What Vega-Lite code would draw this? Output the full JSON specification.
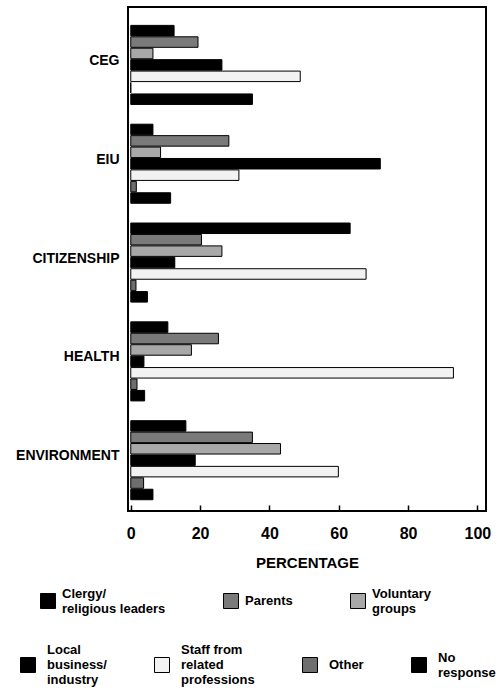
{
  "$schema": "https://vega.github.io/schema/vega-lite/v6.json",
  "width": 358,
  "height": 504,
  "autosize": "none",
  "padding": {"left": 128, "top": 7, "right": 11, "bottom": 183},
  "background": "white",
  "config": {
    "view": {"stroke": "black", "strokeWidth": 2},
    "font": "Liberation Sans",
    "legend": {
      "title": null,
      "orient": "none",
      "direction": "horizontal",
      "gridAlign": "none",
      "symbolType": "square",
      "symbolSize": 225,
      "symbolStrokeColor": "black",
      "symbolStrokeWidth": 1,
      "labelFontSize": 13,
      "labelFontWeight": "bold",
      "labelColor": "black",
      "labelLimit": 300
    }
  },
  "data": {
    "values": [
      {"category": "CEG", "series": "Clergy/religious leaders", "value": 12.5},
      {"category": "CEG", "series": "Parents", "value": 19.4},
      {"category": "CEG", "series": "Voluntary groups", "value": 6.4},
      {"category": "CEG", "series": "Local business/industry", "value": 26.3},
      {"category": "CEG", "series": "Staff from related professions", "value": 48.9},
      {"category": "CEG", "series": "Other", "value": 0},
      {"category": "CEG", "series": "No response", "value": 35.1},
      {"category": "EIU", "series": "Clergy/religious leaders", "value": 6.4},
      {"category": "EIU", "series": "Parents", "value": 28.3},
      {"category": "EIU", "series": "Voluntary groups", "value": 8.6},
      {"category": "EIU", "series": "Local business/industry", "value": 72},
      {"category": "EIU", "series": "Staff from related professions", "value": 31.2},
      {"category": "EIU", "series": "Other", "value": 1.6},
      {"category": "EIU", "series": "No response", "value": 11.5},
      {"category": "CITIZENSHIP", "series": "Clergy/religious leaders", "value": 63.3},
      {"category": "CITIZENSHIP", "series": "Parents", "value": 20.4},
      {"category": "CITIZENSHIP", "series": "Voluntary groups", "value": 26.3},
      {"category": "CITIZENSHIP", "series": "Local business/industry", "value": 12.7},
      {"category": "CITIZENSHIP", "series": "Staff from related professions", "value": 67.9},
      {"category": "CITIZENSHIP", "series": "Other", "value": 1.5},
      {"category": "CITIZENSHIP", "series": "No response", "value": 4.8},
      {"category": "HEALTH", "series": "Clergy/religious leaders", "value": 10.7},
      {"category": "HEALTH", "series": "Parents", "value": 25.3},
      {"category": "HEALTH", "series": "Voluntary groups", "value": 17.5},
      {"category": "HEALTH", "series": "Local business/industry", "value": 3.8},
      {"category": "HEALTH", "series": "Staff from related professions", "value": 93.1},
      {"category": "HEALTH", "series": "Other", "value": 1.8},
      {"category": "HEALTH", "series": "No response", "value": 4.0},
      {"category": "ENVIRONMENT", "series": "Clergy/religious leaders", "value": 15.9},
      {"category": "ENVIRONMENT", "series": "Parents", "value": 35.1},
      {"category": "ENVIRONMENT", "series": "Voluntary groups", "value": 43.2},
      {"category": "ENVIRONMENT", "series": "Local business/industry", "value": 18.6},
      {"category": "ENVIRONMENT", "series": "Staff from related professions", "value": 59.9},
      {"category": "ENVIRONMENT", "series": "Other", "value": 3.7},
      {"category": "ENVIRONMENT", "series": "No response", "value": 6.4}
    ]
  },
  "encoding": {
    "y": {
      "field": "category",
      "type": "nominal",
      "scale": {
        "domain": ["CEG", "EIU", "CITIZENSHIP", "HEALTH", "ENVIRONMENT"],
        "paddingInner": 0.2,
        "paddingOuter": 0.15,
        "align": 0.62
      },
      "axis": {
        "title": null,
        "domain": false,
        "ticks": false,
        "labelFontSize": 14,
        "labelFontWeight": "bold",
        "labelColor": "black",
        "labelPadding": 9,
        "labelOffset": -4
      }
    },
    "yOffset": {
      "field": "series",
      "type": "nominal",
      "scale": {
        "domain": ["Clergy/religious leaders", "Parents", "Voluntary groups", "Local business/industry", "Staff from related professions", "Other", "No response"],
        "paddingInner": 0.08,
        "paddingOuter": 0
      }
    },
    "x": {
      "field": "value",
      "type": "quantitative",
      "scale": {"domain": [-0.8, 102.5], "nice": false, "zero": false},
      "axis": {
        "title": "PERCENTAGE",
        "values": [0, 20, 40, 60, 80, 100],
        "grid": false,
        "domain": false,
        "tickSize": -6,
        "tickColor": "black",
        "tickWidth": 1.5,
        "labelFontSize": 16,
        "labelFontWeight": "bold",
        "labelColor": "black",
        "labelPadding": 20,
        "titleFontSize": 15,
        "titleFontWeight": "bold",
        "titleColor": "black",
        "titlePadding": 14
      }
    }
  },
  "layer": [
    {
      "transform": [{"filter": {"field": "series", "oneOf": ["Clergy/religious leaders", "Parents", "Voluntary groups"]}}],
      "mark": {"type": "bar", "stroke": "black", "strokeWidth": 1},
      "encoding": {
        "fill": {
          "field": "series",
          "type": "nominal",
          "scale": {
            "domain": ["Clergy/religious leaders", "Parents", "Voluntary groups"],
            "range": ["#000000", "#7a7a7a", "#a8a8a8"]
          },
          "legend": {
            "legendX": -88,
            "legendY": 586,
            "columns": 3,
            "columnPadding": 55,
            "labelOffset": 6,
            "labelExpr": "datum.label == 'Clergy/religious leaders' ? ['Clergy/', 'religious leaders'] : datum.label == 'Voluntary groups' ? ['Voluntary', 'groups'] : datum.label",
            "encode": {
              "labels": {
                "update": {
                  "lineHeight": {"value": 15},
                  "dy": {"signal": "datum.value == 'Parents' ? 0 : -7.5"}
                }
              }
            }
          }
        }
      }
    },
    {
      "transform": [{"filter": {"field": "series", "oneOf": ["Local business/industry", "Staff from related professions", "Other", "No response"]}}],
      "mark": {"type": "bar", "stroke": "black", "strokeWidth": 1},
      "encoding": {
        "fill": {
          "field": "series",
          "type": "nominal",
          "scale": {
            "domain": ["Local business/industry", "Staff from related professions", "Other", "No response"],
            "range": ["#000000", "#f2f2f2", "#6e6e6e", "#000000"]
          },
          "legend": {
            "legendX": -108,
            "legendY": 650,
            "columns": 4,
            "columnPadding": 45,
            "labelOffset": 11,
            "labelExpr": "datum.label == 'Local business/industry' ? ['Local', 'business/', 'industry'] : datum.label == 'Staff from related professions' ? ['Staff from', 'related', 'professions'] : datum.label == 'No response' ? ['No', 'response'] : datum.label",
            "encode": {
              "labels": {
                "update": {
                  "lineHeight": {"value": 15},
                  "dy": {"signal": "datum.value == 'Other' ? 0 : datum.value == 'No response' ? -7.5 : -15"}
                }
              }
            }
          }
        }
      }
    }
  ],
  "resolve": {"scale": {"fill": "independent"}, "legend": {"fill": "independent"}}
}
